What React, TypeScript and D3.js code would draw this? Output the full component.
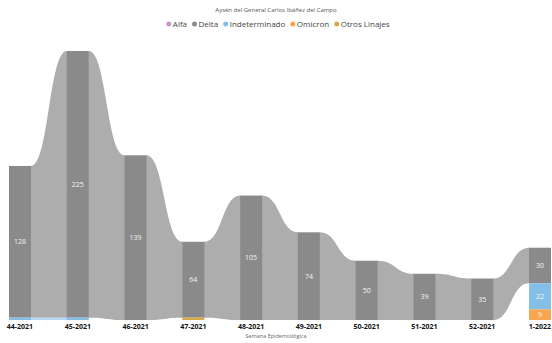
import React, { useEffect, useRef } from "react";
import * as d3 from "d3";

const weeks = ["44-2021", "45-2021", "46-2021", "47-2021", "48-2021", "49-2021", "50-2021", "51-2021", "52-2021", "1-2022"];
const seriesNames = ["Alfa", "Delta", "Indeterminado", "Omicron", "Otros Linajes"];
const alfa = [0, 0, 0, 0, 0, 0, 0, 0, 0, 0];
const delta = [128, 225, 139, 64, 105, 74, 50, 39, 35, 30];
const indeterminado = [2, 2, 0, 0, 0, 0, 0, 0, 0, 22];
const omicron = [0, 0, 0, 0, 0, 0, 0, 0, 0, 9];
const otrosLinajes = [0, 0, 0, 2, 0, 0, 0, 0, 0, 0];
const barColors = ["#c894d2", "#8a8a8a", "#84bfe8", "#f7a64f", "#d4ab48"];
const ribbonColors = ["#dcc6e6", "#adadad", "#b4d8f2", "#f9c992", "#e4cc8e"];
const title = "Aysén del General Carlos Ibáñez del Campo";
const xTitle = "Semana Epidemiológica";

const W = 552;
const H = 343;

export default function App() {
  const ref = useRef<SVGSVGElement>(null);
  useEffect(() => {
    const svg = d3.select(ref.current);
    svg.selectAll("*").remove();
    const font = "'Open Sans', 'DejaVu Sans', sans-serif";
    const data = [alfa, delta, indeterminado, omicron, otrosLinajes];

    const x = d3.scalePoint<string>().domain(weeks).range([20, 540]);
    const totals = weeks.map((_, i) => d3.sum(data, (s) => s[i]));
    const y = d3.scaleLinear().domain([0, d3.max(totals) as number]).range([320, 51]);
    const bw = 22;

    const seg: { y0: number; y1: number }[][] = data.map(() => weeks.map(() => ({ y0: 0, y1: 0 })));
    weeks.forEach((_, i) => {
      const order = d3.range(data.length).filter((k) => data[k][i] > 0).sort((a, b) => data[a][i] - data[b][i]);
      let acc = 0;
      order.forEach((k) => {
        seg[k][i] = { y0: acc, y1: acc + data[k][i] };
        acc += data[k][i];
      });
    });

    const gR = svg.append("g");
    data.forEach((s, k) => {
      for (let i = 0; i < weeks.length - 1; i++) {
        if (s[i] > 0 && s[i + 1] > 0) {
          const xa = (x(weeks[i]) as number) + bw / 2;
          const xb = (x(weeks[i + 1]) as number) - bw / 2;
          const m = (xa + xb) / 2;
          const ta = y(seg[k][i].y1), tb = y(seg[k][i + 1].y1);
          const ba = y(seg[k][i].y0), bb = y(seg[k][i + 1].y0);
          const p = d3.path();
          p.moveTo(xa - 0.5, ta);
          p.lineTo(xa, ta);
          p.bezierCurveTo(m, ta, m, tb, xb, tb);
          p.lineTo(xb + 0.5, tb);
          p.lineTo(xb + 0.5, bb);
          p.lineTo(xb, bb);
          p.bezierCurveTo(m, bb, m, ba, xa, ba);
          p.lineTo(xa - 0.5, ba);
          p.closePath();
          gR.append("path").attr("d", p.toString()).attr("fill", ribbonColors[k]);
        }
      }
    });

    const gB = svg.append("g");
    data.forEach((s, k) => {
      weeks.forEach((w, i) => {
        if (s[i] <= 0) return;
        const cx = x(w) as number;
        gB.append("rect")
          .attr("x", cx - bw / 2)
          .attr("y", y(seg[k][i].y1))
          .attr("width", bw)
          .attr("height", y(seg[k][i].y0) - y(seg[k][i].y1))
          .attr("fill", barColors[k]);
        if (s[i] >= 5) {
          gB.append("text")
            .attr("x", cx)
            .attr("y", (y(seg[k][i].y0) + y(seg[k][i].y1)) / 2)
            .attr("dy", "0.35em")
            .attr("text-anchor", "middle")
            .attr("font-family", font)
            .attr("font-size", 7)
            .attr("fill", "#f5f5f5")
            .text(String(s[i]));
        }
      });
    });

    weeks.forEach((w) => {
      svg.append("text")
        .attr("x", x(w) as number)
        .attr("y", 329)
        .attr("text-anchor", "middle")
        .attr("font-family", font)
        .attr("font-size", 7)
        .attr("font-weight", "bold")
        .attr("fill", "#111")
        .text(w);
    });
    svg.append("text")
      .attr("x", 276)
      .attr("y", 338)
      .attr("text-anchor", "middle")
      .attr("font-family", font)
      .attr("font-size", 5.5)
      .attr("fill", "#666")
      .text(xTitle);

    svg.append("text")
      .attr("x", 276)
      .attr("y", 12)
      .attr("text-anchor", "middle")
      .attr("font-family", font)
      .attr("font-size", 6)
      .attr("fill", "#555")
      .text(title);

    const gL = svg.append("g");
    let cur = 0;
    seriesNames.forEach((n, k) => {
      gL.append("circle").attr("cx", cur + 2.5).attr("cy", 24).attr("r", 2.5).attr("fill", barColors[k]);
      const t = gL.append("text")
        .attr("x", cur + 6.5)
        .attr("y", 27)
        .attr("font-family", font)
        .attr("font-size", 8)
        .attr("fill", "#444")
        .text(n);
      const tw = (t.node() as SVGTextElement).getComputedTextLength();
      cur += 6.5 + tw + 5;
    });
    const totalW = cur - 5;
    gL.attr("transform", `translate(${278 - totalW / 2},0)`);
  }, []);
  return <svg ref={ref} width={W} height={H} style={{ display: "block", position: "absolute", left: 0, top: 0 }} />;
}
